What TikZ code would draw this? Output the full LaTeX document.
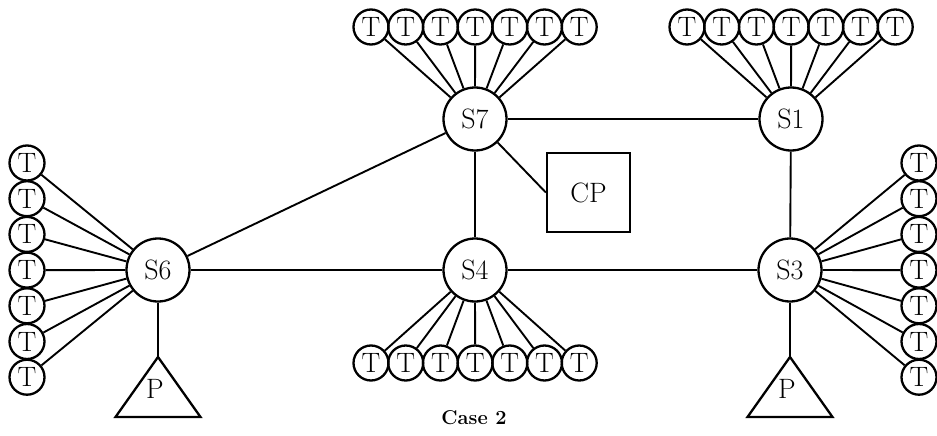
\documentclass[tikz,border=0pt]{standalone}
\usepackage{fontspec}
\begin{document}
\begin{tikzpicture}[x=1pt,y=-1pt,line width=1.9pt,
  sw/.style={circle,draw,line width=2.3pt,minimum size=63pt,inner sep=0pt,font=\fontsize{28}{28}\selectfont},
  term/.style={circle,draw,line width=2.3pt,minimum size=35pt,inner sep=0pt,font=\fontsize{28}{28}\selectfont},
  cpbox/.style={draw,line width=2.3pt,minimum width=83pt,minimum height=79pt,inner sep=0pt,font=\fontsize{28}{28}\selectfont},
  plabel/.style={inner sep=0pt,font=\fontsize{28}{28}\selectfont},
  link/.style={line width=1.9pt}]
\useasboundingbox (0,0) rectangle (937,436);

\node[sw] (S7) at (475,119) {S7};
\node[sw] (S1) at (791,119) {S1};
\node[sw] (S6) at (158,270) {S6};
\node[sw] (S4) at (475,270) {S4};
\node[sw] (S3) at (790,270) {S3};
\node[cpbox] (CP) at (588.5,192.5) {CP};

% printers
\coordinate (P6top) at (158,357);
\coordinate (P3top) at (790,357);
\draw[line width=2.3pt] (P6top) -- ++(-42.5,60) -- ++(85,0) -- cycle;
\draw[line width=2.3pt] (P3top) -- ++(-42.5,60) -- ++(85,0) -- cycle;
\node[plabel] (P6) at (155,389) {P};
\node[plabel] (P3) at (787,389) {P};

% terminals
\foreach \i in {1,...,7}{
  \node[term] (a\i) at ({371+34.7*(\i-1)},27) {T};
  \draw[link] (a\i) -- (S7);
  \node[term] (b\i) at ({687+34.7*(\i-1)},27) {T};
  \draw[link] (b\i) -- (S1);
  \node[term] (c\i) at ({371+34.7*(\i-1)},363) {T};
  \draw[link] (c\i) -- (S4);
  \node[term] (d\i) at (27,{163+35.7*(\i-1)}) {T};
  \draw[link] (d\i) -- (S6);
  \node[term] (e\i) at (919,{163+35.7*(\i-1)}) {T};
  \draw[link] (e\i) -- (S3);
}

% backbone
\draw[link] (S7) -- (S1);
\draw[link] (S7) -- (S6);
\draw[link] (S7) -- (S4);
\draw[link] (S7) -- (CP.west);
\draw[link] (S1) -- (S3);
\draw[link] (S6) -- (S4);
\draw[link] (S4) -- (S3);
\draw[link] (S6) -- (P6top);
\draw[link] (S3) -- (P3top);

\node[font=\fontsize{20}{20}\selectfont\bfseries] (cap) at (474,418) {Case 2};
\end{tikzpicture}
\end{document}
